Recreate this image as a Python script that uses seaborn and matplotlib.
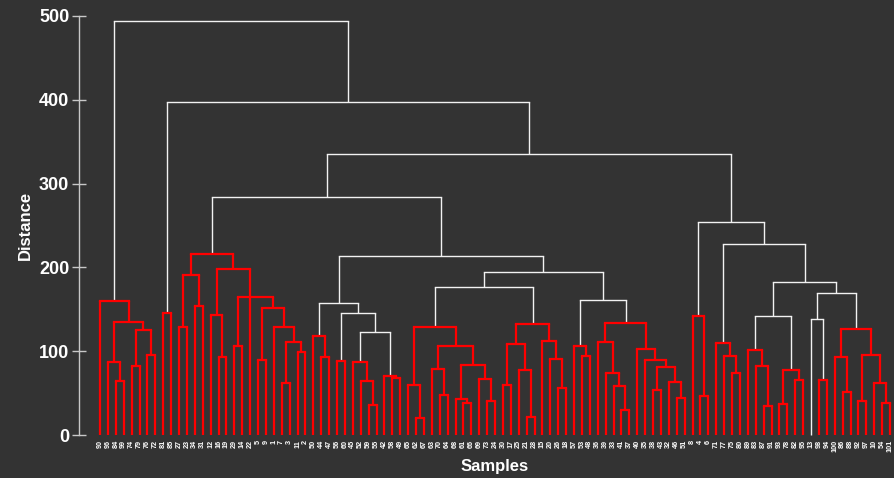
import matplotlib
matplotlib.use("Agg")
import matplotlib.pyplot as plt
import seaborn as sns

# ---------------- data ----------------
leaf_labels = ["90", "96", "84", "99", "74", "79", "76", "72", "81", "85",
               "27", "23", "34", "31", "12", "16", "19", "29", "14", "22",
               "5", "9", "1", "7", "3", "11", "2", "50", "44", "47",
               "56", "60", "45", "52", "59", "55", "42", "58", "49", "65",
               "62", "67", "63", "70", "64", "68", "61", "66", "69", "73",
               "24", "30", "17", "25", "21", "28", "15", "20", "26", "18",
               "57", "53", "48", "36", "39", "33", "41", "37", "40", "35",
               "38", "43", "32", "46", "51", "8", "4", "6", "71", "77",
               "75", "80", "89", "83", "87", "91", "93", "78", "82", "95",
               "13", "98", "94", "100", "86", "88", "92", "97", "10", "54",
               "101"]

# clusters: (child, child[, child], merge distance); ints are leaf positions
c1 = (0, ((1, (2, 3, 64), 87), ((4, 5, 82), (6, 7, 95), 125), 135), 160)
c2 = (8, 9, 146)
c3 = (((10, 11, 129), (12, 13, 154), 191),
      ((14, (15, 16, 93), 143),
       ((17, 18, 106), 19,
        ((20, 21, 89), (22, ((23, 24, 62), (25, 26, 99), 111), 129), 151), 165),
       198),
      216)
c4 = (27, (28, 29, 93), 118)
c5 = (30, 31, 88)
c6 = (32, (33, (34, 35, 36), 64), 87)
c7 = (36, (37, 38, 68), 70)
c8 = ((39, (40, 41, 20), 60),
      ((42, (43, 44, 48), 79), ((45, (46, 47, 38), 43), (48, (49, 50, 41), 67), 84), 106),
      129)
c9 = (((51, 52, 60), (53, (54, 55, 21), 78), 109), (56, (57, (58, 59, 56), 91), 112), 132)
c10 = (60, (61, 62, 94), 106)
c11 = ((63, (64, (65, (66, 67, 30), 59), 74), 111),
       (68, (69, ((70, 71, 54), (72, (73, 74, 44), 63), 81), 90), 103),
       134)
c12 = (75, (76, 77, 47), 142)
c13 = (78, (79, (80, 81, 74), 94), 110)
c14 = (82, (83, (84, 85, 35), 82), 101)
c15 = ((86, 87, 37), (88, 89, 66), 77)
c17 = (91, 92, 66)
c18 = ((93, (94, 95, 51), 93), ((96, 97, 41), (98, (99, 100, 38), 62), 95), 126)

clusters = [c1, c2, c3, c4, c5, c6, c7, c8, c9, c10, c11, c12, c13, c14, c15, c17, c18]

tree = (c1,
        (c2,
         ((c3,
           ((c4, (c5, (c6, c7, 123), 146), 157),
            ((c8, c9, 177), (c10, c11, 161), 194),
            214),
           284),
          (c12,
           (c13,
            ((c14, c15, 142), ((90, c17, 139), c18, 170), 183),
            228),
           254),
          335),
         397),
        494)

y_ticks = [0, 100, 200, 300, 400, 500]

# ---------------- style ----------------
BG = "#333333"
RED = "#ff0000"
WHITE = "#f2f2f2"

sns.set_theme(style="dark", rc={"axes.facecolor": BG, "figure.facecolor": BG})
plt.rcParams["font.family"] = ["Liberation Sans", "DejaVu Sans"]

fig = plt.figure(figsize=(8.94, 4.78), dpi=100, facecolor=BG)
ax = fig.add_axes([79 / 894, 43 / 478, 815 / 894, 419 / 478])
ax.set_facecolor(BG)


def layout(node):
    """x position and height of a node (leaf x = its position)."""
    if isinstance(node, int):
        return float(node), 0.0
    kids, h = node[:-1], node[-1]
    xs = [layout(k)[0] for k in kids]
    if len(xs) % 2 == 1:
        x = xs[len(xs) // 2]
    else:
        x = (xs[0] + xs[-1]) / 2.0
    return x, float(h)


def draw(node, red=False):
    if isinstance(node, int):
        return
    red = red or any(node is c for c in clusters)
    kids, h = node[:-1], node[-1]
    pos = [layout(k) for k in kids]
    color = RED if red else WHITE
    lw = 1.6 if red else 1.0
    z = 3 if red else 2
    ax.plot([pos[0][0], pos[-1][0]], [h, h], color=color, lw=lw,
            clip_on=False, solid_capstyle="projecting", zorder=z)
    for (x, hk) in pos:
        ax.plot([x, x], [hk, h], color=color, lw=lw,
                clip_on=False, solid_capstyle="butt", zorder=z)
    for k in kids:
        draw(k, red)


draw(tree)

ax.set_xlim(-21 / 7.9, 794 / 7.9)
ax.set_ylim(0, 500)
ax.grid(False)

for s in ["top", "right", "bottom"]:
    ax.spines[s].set_visible(False)
ax.spines["left"].set_color("#c8c8c8")
ax.spines["left"].set_linewidth(1.0)

ax.set_yticks(y_ticks)
ax.set_yticklabels([str(v) for v in y_ticks], fontsize=13, fontweight="bold", color="white")
ax.tick_params(axis="y", direction="inout", length=10, width=1, color="#c8c8c8", pad=2, left=True)

ax.set_xticks(range(len(leaf_labels)))
ax.set_xticklabels(leaf_labels, rotation=90, fontsize=5.2, fontweight="bold", color="white")
ax.tick_params(axis="x", length=0, pad=3.5, bottom=True)

fig.text(25 / 894, 1 - 225.5 / 478, "Distance", rotation=90, ha="center", va="center",
         fontsize=12, fontweight="bold", color="white")
fig.text(494.5 / 894, 1 - 466 / 478, "Samples", ha="center", va="center",
         fontsize=12, fontweight="bold", color="white")

fig.savefig("out.png", dpi=100, facecolor=BG)
